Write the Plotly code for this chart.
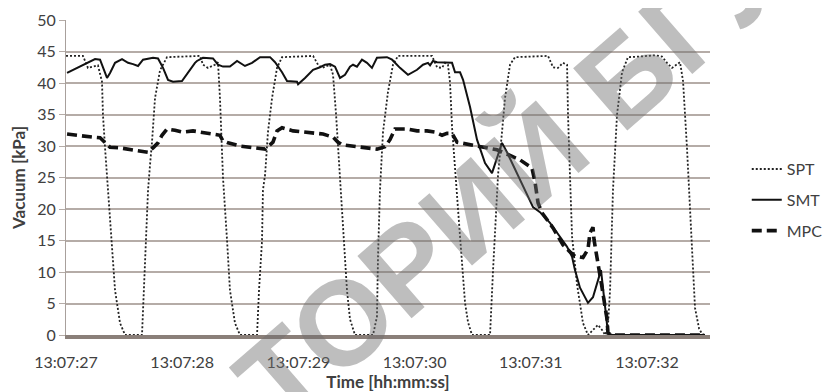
import plotly.graph_objects as go

# ---- data (time in seconds after 13:07:27, vacuum in kPa) ----
tick_vals = [0, 1, 2, 3, 4, 5]
tick_text = ["13:07:27", "13:07:28", "13:07:29", "13:07:30", "13:07:31", "13:07:32"]

spt_t = [0.000, 0.146, 0.189, 0.232, 0.275, 0.310, 0.318, 0.336, 0.353, 0.361, 0.396, 0.422, 0.465, 0.508,
         0.654, 0.671, 0.688, 0.706, 0.723, 0.740, 0.766, 0.809, 0.869, 1.110, 1.153, 1.179, 1.222, 1.282,
         1.308, 1.325, 1.343, 1.351, 1.386, 1.411, 1.454, 1.497, 1.644, 1.661, 1.687, 1.695, 1.713, 1.738,
         1.773, 1.816, 1.859, 2.126, 2.169, 2.203, 2.272, 2.298, 2.324, 2.341, 2.367, 2.392, 2.418, 2.444,
         2.487, 2.642, 2.676, 2.685, 2.702, 2.728, 2.771, 2.814, 2.857, 3.150, 3.193, 3.236, 3.262, 3.287,
         3.305, 3.322, 3.348, 3.365, 3.391, 3.434, 3.460, 3.494, 3.649, 3.675, 3.709, 3.718, 3.752, 3.778,
         3.821, 3.864, 4.148, 4.191, 4.234, 4.277, 4.312, 4.320, 4.337, 4.355, 4.398, 4.449, 4.492, 4.535,
         4.578, 4.613, 4.639, 4.664, 4.682, 4.707, 4.742, 4.785, 4.836, 4.940, 5.069, 5.129, 5.172, 5.215,
         5.284, 5.310, 5.344, 5.387, 5.413, 5.448, 5.473, 5.499]
spt_v = [44.3, 44.3, 42.4, 42.6, 42.8, 40.2, 35.0, 29.7, 25.4, 23.0, 15.0, 7.1, 1.9, 0.0,
         0.0, 7.1, 15.0, 23.0, 27.0, 30.6, 37.6, 42.0, 44.1, 44.3, 44.3, 42.9, 42.4, 42.9,
         43.3, 37.6, 29.7, 25.0, 15.0, 7.1, 1.9, 0.0, 0.0, 7.1, 15.0, 23.0, 25.4, 32.2,
         37.6, 42.4, 44.1, 44.3, 42.9, 42.4, 42.9, 41.3, 35.0, 29.7, 23.0, 15.0, 7.1, 2.5,
         0.0, 0.0, 2.9, 12.4, 23.0, 32.2, 38.6, 42.9, 44.3, 44.3, 42.5, 42.4, 43.2, 42.9,
         40.0, 33.0, 26.0, 21.0, 15.6, 5.1, 2.0, 0.0, 0.0, 10.3, 21.0, 25.4, 32.2, 37.6,
         42.9, 44.1, 44.3, 42.5, 42.4, 43.2, 42.9, 35.0, 25.4, 15.6, 8.0, 1.9, 0.0, 0.8,
         1.6, 0.8, 0.0, 1.5, 7.1, 23.0, 35.0, 41.7, 44.1, 44.2, 44.4, 44.2, 43.2, 42.4,
         43.3, 40.3, 29.7, 13.8, 4.3, 1.0, 0.2, 0.0]

smt_t = [0.009, 0.095, 0.181, 0.250, 0.293, 0.318, 0.353, 0.379, 0.422, 0.482, 0.534, 0.577, 0.620, 0.663,
         0.749, 0.792, 0.835, 0.878, 0.921, 0.998, 1.050, 1.110, 1.127, 1.179, 1.265, 1.308, 1.351, 1.411,
         1.472, 1.540, 1.601, 1.670, 1.756, 1.799, 1.859, 1.902, 1.988, 1.997, 2.057, 2.126, 2.186, 2.229,
         2.272, 2.315, 2.358, 2.401, 2.444, 2.470, 2.504, 2.547, 2.590, 2.633, 2.676, 2.762, 2.806, 2.874,
         2.943, 3.021, 3.072, 3.115, 3.133, 3.158, 3.193, 3.279, 3.322, 3.348, 3.391, 3.417, 3.477, 3.537,
         3.606, 3.666, 3.709, 3.752, 3.795, 3.881, 3.967, 4.019, 4.079, 4.165, 4.251, 4.312, 4.355, 4.380,
         4.423, 4.492, 4.535, 4.578, 4.604, 4.639, 4.664, 4.699, 5.499]
smt_v = [41.6, 42.4, 43.2, 43.8, 43.7, 42.4, 40.8, 41.6, 43.2, 43.8, 43.2, 43.0, 42.7, 43.7,
         44.0, 43.9, 42.4, 40.5, 40.2, 40.3, 41.7, 43.2, 43.5, 44.0, 43.9, 42.9, 42.6, 42.6,
         43.5, 42.7, 43.2, 44.1, 44.1, 43.3, 41.7, 40.3, 40.2, 39.8, 40.8, 42.1, 42.5, 42.9,
         43.0, 42.6, 40.8, 41.3, 42.6, 42.9, 42.6, 43.7, 43.2, 42.4, 44.0, 44.1, 43.7, 42.4,
         41.3, 42.1, 42.9, 43.2, 42.8, 43.5, 43.3, 43.3, 43.2, 41.7, 41.7, 40.5, 36.2, 31.0,
         27.3, 25.7, 28.3, 30.5, 29.0, 25.7, 22.5, 20.3, 19.5, 17.8, 15.6, 14.0, 12.4, 10.3,
         7.5, 5.1, 6.0, 8.7, 10.3, 4.5, 0.3, 0.0, 0.0]

mpc_t = [0.009, 0.120, 0.232, 0.293, 0.336, 0.379, 0.465, 0.551, 0.637, 0.706, 0.749, 0.792, 0.826, 0.869,
         0.938, 1.007, 1.093, 1.153, 1.239, 1.325, 1.351, 1.394, 1.497, 1.609, 1.713, 1.738, 1.781, 1.816,
         1.859, 1.954, 2.040, 2.126, 2.212, 2.298, 2.341, 2.375, 2.470, 2.590, 2.676, 2.745, 2.788, 2.831,
         2.935, 3.021, 3.107, 3.176, 3.236, 3.279, 3.322, 3.365, 3.451, 3.589, 3.709, 3.821, 3.907, 4.010,
         4.036, 4.062, 4.096, 4.191, 4.277, 4.337, 4.380, 4.449, 4.492, 4.509, 4.535, 4.544, 4.570, 4.613,
         4.656, 4.664, 4.699, 5.499]
mpc_v = [31.9, 31.6, 31.4, 31.3, 30.6, 29.8, 29.7, 29.4, 29.2, 29.0, 29.7, 30.5, 31.7, 32.7,
         32.5, 32.2, 32.4, 32.2, 32.0, 31.7, 30.8, 30.5, 30.0, 29.7, 29.5, 29.9, 30.6, 32.4,
         32.9, 32.4, 32.2, 32.1, 31.9, 31.4, 30.6, 30.2, 30.0, 29.7, 29.5, 29.9, 31.0, 32.7,
         32.7, 32.4, 32.4, 32.2, 31.7, 32.0, 32.0, 30.6, 30.3, 29.8, 29.4, 28.5, 27.8, 26.5,
         24.3, 21.0, 19.4, 17.0, 14.3, 13.2, 12.5, 12.3, 13.6, 16.2, 17.1, 15.1, 11.9, 7.5,
         2.5, 0.3, 0.0, 0.0]

FONT = "Lato"
GRID = "#b5aca7"
TXT = "#404040"

fig = go.Figure()
fig.add_trace(go.Scatter(x=spt_t, y=spt_v, name="SPT", mode="lines", legendgroup="a",
                         line=dict(color="#222222", width=1.8, dash="2px,2px")))
fig.add_trace(go.Scatter(x=smt_t, y=smt_v, name="SMT", mode="lines", legendgroup="b",
                         line=dict(color="#111111", width=2.0)))
fig.add_trace(go.Scatter(x=mpc_t, y=mpc_v, name="MPC", mode="lines", legendgroup="c",
                         line=dict(color="#111111", width=3.6, dash="10px,5px")))

fig.update_layout(
    width=831, height=392,
    margin=dict(l=58, r=129, t=12, b=65, autoexpand=False),
    paper_bgcolor="white", plot_bgcolor="white",
    font=dict(family=FONT, size=16, color=TXT),
    showlegend=True,
    legend=dict(xref="container", yref="container", x=0.889, y=0.51,
                xanchor="left", yanchor="middle",
                font=dict(family=FONT, size=16, color=TXT),
                tracegroupgap=7, bgcolor="rgba(0,0,0,0)"),
    xaxis=dict(range=[0, 5.542], tickvals=tick_vals, ticktext=tick_text, showgrid=False,
               automargin=False,
               zeroline=False, showline=True, linecolor="#8a7f79", linewidth=4,
               ticks="outside", ticklen=10, tickcolor="rgba(0,0,0,0)", layer="below traces",
               tickfont=dict(family=FONT, size=16, color=TXT),
               title=dict(text="<b>Time [hh:mm:ss]</b>", standoff=5,
                          font=dict(family=FONT, size=17, color=TXT))),
    yaxis=dict(range=[0, 50], dtick=5, showgrid=True, gridcolor=GRID, gridwidth=1.5,
               automargin=False,
               zeroline=False, showline=True, linecolor="#a8a09c", linewidth=1,
               ticks="outside", ticklen=6, tickcolor=GRID, layer="below traces",
               tickfont=dict(family=FONT, size=16, color=TXT),
               title=dict(text="<b>Vacuum [kPa]</b>", standoff=8,
                          font=dict(family=FONT, size=17, color=TXT))),
)

fig.add_annotation(text="ТОРИЙ БГУ", xref="paper", yref="paper", x=0.691, y=0.505,
                   xanchor="center", yanchor="middle", textangle=-41, showarrow=False,
                   font=dict(family="Liberation Sans", size=120, weight=700,
                             color="rgba(110,110,110,0.45)"))

fig.write_html("out.html")
